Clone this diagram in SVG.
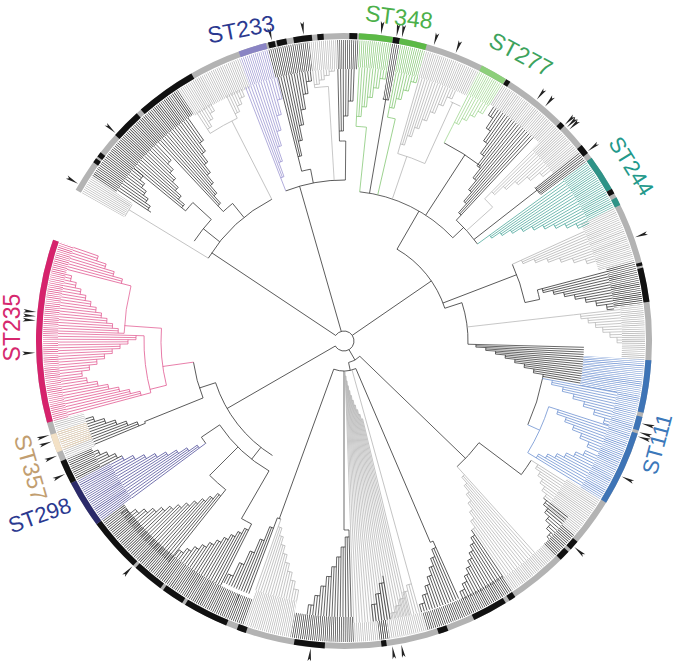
<svg xmlns="http://www.w3.org/2000/svg" width="680" height="663" viewBox="0 0 680 663">
<style>
.br path,.br circle{fill:none;stroke-width:.7}
.bd circle{fill:none;stroke-dasharray:.13 .26}
.mk{fill:none;stroke:#fff;stroke-width:320}
.s g{transform:rotate(1.146deg)}
.n g{transform:rotate(-1.146deg)}
.k{stroke:#2a2a2a}.g{stroke:#b2b2b2}.p{stroke:#e0528c}.v{stroke:#9a94d0}.gr{stroke:#7dc46c}.lg{stroke:#9fd690}.tl{stroke:#4aa69a}.bl{stroke:#6a8fd0}.tn{stroke:#eed5b2}.nv{stroke:#4d4c98}
.rg circle{fill:none;stroke-width:6}
.rk{stroke:#111}
text{font-family:"Liberation Sans",Arial,sans-serif}
</style>
<defs>
<path id="a" d="M0 0L13-1.8L10.5 0L13 1.8Z" fill="#222"/>
<mask id="m1"><circle class="mk" r="160" pathLength="360" stroke-dasharray="3.7 360" transform="rotate(-150.6)"/></mask>
<mask id="m2"><circle class="mk" r="160" pathLength="360" stroke-dasharray="23.4 360" transform="rotate(-146.9)"/></mask>
<mask id="m3"><circle class="mk" r="160" pathLength="360" stroke-dasharray="13.2 360" transform="rotate(-123.5)"/></mask>
<mask id="m4"><circle class="mk" r="160" pathLength="360" stroke-dasharray="5.7 360" transform="rotate(-110.3)"/></mask>
<mask id="m5"><circle class="mk" r="160" pathLength="360" stroke-dasharray="8 360" transform="rotate(-104.6)"/></mask>
<mask id="m6"><circle class="mk" r="160" pathLength="360" stroke-dasharray="5.3 360" transform="rotate(-96.6)"/></mask>
<mask id="m7"><circle class="mk" r="160" pathLength="360" stroke-dasharray="4.1 360" transform="rotate(-91.3)"/></mask>
<mask id="m8"><circle class="mk" r="160" pathLength="360" stroke-dasharray="6.3 360" transform="rotate(-87.2)"/></mask>
<mask id="m9"><circle class="mk" r="160" pathLength="360" stroke-dasharray="1.6 360" transform="rotate(-80.9)"/></mask>
<mask id="m10"><circle class="mk" r="160" pathLength="360" stroke-dasharray="4.9 360" transform="rotate(-79.3)"/></mask>
<mask id="m11"><circle class="mk" r="160" pathLength="360" stroke-dasharray="10.9 360" transform="rotate(-74.4)"/></mask>
<mask id="m12"><circle class="mk" r="160" pathLength="360" stroke-dasharray="5.2 360" transform="rotate(-63.5)"/></mask>
<mask id="m13"><circle class="mk" r="160" pathLength="360" stroke-dasharray="12.8 360" transform="rotate(-58.3)"/></mask>
<mask id="m14"><circle class="mk" r="160" pathLength="360" stroke-dasharray="6.7 360" transform="rotate(-45.5)"/></mask>
<mask id="m15"><circle class="mk" r="160" pathLength="360" stroke-dasharray="2.3 360" transform="rotate(-38.8)"/></mask>
<mask id="m16"><circle class="mk" r="160" pathLength="360" stroke-dasharray="10.3 360" transform="rotate(-36.5)"/></mask>
<mask id="m17"><circle class="mk" r="160" pathLength="360" stroke-dasharray="10.7 360" transform="rotate(-26.2)"/></mask>
<mask id="m18"><circle class="mk" r="160" pathLength="360" stroke-dasharray="8.5 360" transform="rotate(-15.5)"/></mask>
<mask id="m19"><circle class="mk" r="160" pathLength="360" stroke-dasharray="10.6 360" transform="rotate(-7)"/></mask>
<mask id="m20"><circle class="mk" r="160" pathLength="360" stroke-dasharray="7.1 360" transform="rotate(3.6)"/></mask>
<mask id="m21"><circle class="mk" r="160" pathLength="360" stroke-dasharray="21 360" transform="rotate(10.7)"/></mask>
<mask id="m22"><circle class="mk" r="160" pathLength="360" stroke-dasharray="8.3 360" transform="rotate(31.7)"/></mask>
<mask id="m23"><circle class="mk" r="160" pathLength="360" stroke-dasharray="5.5 360" transform="rotate(40)"/></mask>
<mask id="m24"><circle class="mk" r="160" pathLength="360" stroke-dasharray="10.5 360" transform="rotate(45.5)"/></mask>
<mask id="m25"><circle class="mk" r="160" pathLength="360" stroke-dasharray="18 360" transform="rotate(56)"/></mask>
<mask id="m26"><circle class="mk" r="160" pathLength="360" stroke-dasharray="14 360" transform="rotate(74)"/></mask>
<mask id="m27"><circle class="mk" r="160" pathLength="360" stroke-dasharray="1.9 360" transform="rotate(81.3)"/></mask>
<mask id="m28"><circle class="mk" r="160" pathLength="360" stroke-dasharray="12.3 360" transform="rotate(88)"/></mask>
<mask id="m29"><circle class="mk" r="160" pathLength="360" stroke-dasharray="9.2 360" transform="rotate(100.3)"/></mask>
<mask id="m30"><circle class="mk" r="160" pathLength="360" stroke-dasharray="34 360" transform="rotate(109.5)"/></mask>
<mask id="m31"><circle class="mk" r="160" pathLength="360" stroke-dasharray="9 360" transform="rotate(143.5)"/></mask>
<mask id="m32"><circle class="mk" r="160" pathLength="360" stroke-dasharray="4.5 360" transform="rotate(152.5)"/></mask>
<mask id="m33"><circle class="mk" r="160" pathLength="360" stroke-dasharray="7.6 360" transform="rotate(157)"/></mask>
<mask id="m34"><circle class="mk" r="160" pathLength="360" stroke-dasharray="3.7 360" transform="rotate(158.8)"/></mask>
<mask id="m35"><circle class="mk" r="160" pathLength="360" stroke-dasharray="34.6 360" transform="rotate(164.6)"/></mask>
</defs>
<rect width="680" height="663" fill="#fff"/>
<g id="leaves" class="bd" transform="translate(344 341)">
<circle class="g" r="277" stroke-width="48" pathLength="360" mask="url(#m1)"/>
<circle class="k" r="286.5" stroke-width="29" pathLength="360" mask="url(#m2)"/>
<circle class="g" r="285.5" stroke-width="31" pathLength="360" mask="url(#m3)"/>
<circle class="v" r="286.5" stroke-width="29" pathLength="360" mask="url(#m4)"/>
<circle class="k" r="286.5" stroke-width="29" pathLength="360" mask="url(#m5)"/>
<circle class="g" r="286.5" stroke-width="29" pathLength="360" mask="url(#m6)"/>
<circle class="k" r="286.5" stroke-width="29" pathLength="360" mask="url(#m7)"/>
<circle class="gr" r="287.5" stroke-width="27" pathLength="360" mask="url(#m8)"/>
<circle class="k" r="273" stroke-width="56" pathLength="360" mask="url(#m9)"/>
<circle class="gr" r="287.5" stroke-width="27" pathLength="360" mask="url(#m10)"/>
<circle class="g" r="287.5" stroke-width="27" pathLength="360" mask="url(#m11)"/>
<circle class="lg" r="288.5" stroke-width="25" pathLength="360" mask="url(#m12)"/>
<circle class="g" r="289.5" stroke-width="23" pathLength="360" mask="url(#m13)"/>
<circle class="g" r="284.5" stroke-width="33" pathLength="360" mask="url(#m14)"/>
<circle class="k" r="273" stroke-width="56" pathLength="360" mask="url(#m15)"/>
<circle class="tl" r="286.5" stroke-width="29" pathLength="360" mask="url(#m16)"/>
<circle class="g" r="282.5" stroke-width="37" pathLength="360" mask="url(#m17)"/>
<circle class="k" r="286.5" stroke-width="29" pathLength="360" mask="url(#m18)"/>
<circle class="g" r="289.5" stroke-width="23" pathLength="360" mask="url(#m19)"/>
<circle class="bl" r="270.5" stroke-width="61" pathLength="360" mask="url(#m20)"/>
<circle class="bl" r="289.5" stroke-width="23" pathLength="360" mask="url(#m21)"/>
<circle class="g" r="281.5" stroke-width="39" pathLength="360" mask="url(#m22)"/>
<circle class="k" r="293" stroke-width="16" pathLength="360" mask="url(#m23)"/>
<circle class="g" r="293" stroke-width="16" pathLength="360" mask="url(#m24)"/>
<circle class="k" r="292" stroke-width="18" pathLength="360" mask="url(#m25)"/>
<circle class="g" r="291.5" stroke-width="19" pathLength="360" mask="url(#m26)"/>
<circle class="k" r="291.5" stroke-width="19" pathLength="360" mask="url(#m27)"/>
<circle class="k" r="288.5" stroke-width="25" pathLength="360" mask="url(#m28)"/>
<circle class="g" r="282.5" stroke-width="37" pathLength="360" mask="url(#m29)"/>
<circle class="k" r="287.5" stroke-width="27" pathLength="360" mask="url(#m30)"/>
<circle class="nv" r="282.5" stroke-width="37" pathLength="360" mask="url(#m31)"/>
<circle class="k" r="287.5" stroke-width="27" pathLength="360" mask="url(#m32)"/>
<circle class="g" r="285.5" stroke-width="31" pathLength="360" mask="url(#m33)"/>
<circle class="tn" r="285.5" stroke-width="31" pathLength="360" mask="url(#m34)"/>
<circle class="p" r="293.5" stroke-width="15" pathLength="360" mask="url(#m35)"/>
</g>
<g id="connectors" class="br" transform="translate(344 341)">
<circle class="k" r="10" pathLength="360" stroke-dasharray="296.3 360" transform="rotate(-146.3)"/>
<path class="k" transform="rotate(-146.3)" d="M10 0H159"/>
<path class="k" transform="rotate(-106)" d="M10 0H161"/>
<path class="k" transform="rotate(-34.5)" d="M10 0H106"/>
<path class="k" transform="rotate(60)" d="M10 0H22"/>
<circle class="k" r="22" pathLength="360" stroke-dasharray="34 360" transform="rotate(44)"/>
<path class="k" transform="rotate(44)" d="M22 0H169"/>
<path class="k" transform="rotate(78)" d="M22 0H30"/>
<circle class="k" r="30" pathLength="360" stroke-dasharray="43.2 360" transform="rotate(66.8)"/>
<path class="k" transform="rotate(150)" d="M10 0H135"/>
<circle class="k" r="135" pathLength="360" stroke-dasharray="40 360" transform="rotate(122)"/>
<circle class="k" r="159" pathLength="360" stroke-dasharray="31.6 360" transform="rotate(-148.6)"/>
<path class="g" transform="rotate(-148.6)" d="M159 0H252"/>
<circle class="g" r="252" pathLength="360" stroke-dasharray="3.2 360" transform="rotate(-150.4)"/>
<path class="k" transform="rotate(-141.4)" d="M159 0H180"/>
<circle class="k" r="180" pathLength="360" stroke-dasharray="8.8 360" transform="rotate(-146.3)"/>
<path class="k" transform="rotate(-137.5)" d="M180 0H205"/>
<circle class="k" r="205" pathLength="360" stroke-dasharray="3.1 360" transform="rotate(-140.6)"/>
<path class="k" transform="rotate(-129)" d="M159 0H177"/>
<circle class="k" r="177" pathLength="360" stroke-dasharray="4 360" transform="rotate(-133)"/>
<path class="g" transform="rotate(-117)" d="M159 0H247"/>
<circle class="g" r="247" pathLength="360" stroke-dasharray="7.2 360" transform="rotate(-122.8)"/>
<circle class="k" r="161" pathLength="360" stroke-dasharray="21.7 360" transform="rotate(-111.2)"/>
<path class="k" transform="rotate(-101)" d="M161 0H175"/>
<circle class="k" r="175" pathLength="360" stroke-dasharray="3 360" transform="rotate(-104)"/>
<path class="g" transform="rotate(-93.5)" d="M161 0H255"/>
<circle class="g" r="255" pathLength="360" stroke-dasharray="3.1 360" transform="rotate(-96.6)"/>
<path class="k" transform="rotate(-89.5)" d="M161 0H200"/>
<circle class="k" r="200" pathLength="360" stroke-dasharray="1.8 360" transform="rotate(-91.3)"/>
<circle class="k" r="106" pathLength="360" stroke-dasharray="42 360" transform="rotate(-60)"/>
<path class="k" transform="rotate(-18)" d="M106 0H124"/>
<circle class="k" r="124" pathLength="360" stroke-dasharray="19.5 360" transform="rotate(-18)"/>
<path class="k" transform="rotate(-60)" d="M106 0H150"/>
<circle class="k" r="150" pathLength="360" stroke-dasharray="40.5 360" transform="rotate(-84)"/>
<path class="gr" transform="rotate(-84)" d="M150 0H215"/>
<circle class="gr" r="215" pathLength="360" stroke-dasharray="2.8 360" transform="rotate(-86.8)"/>
<path class="k" transform="rotate(-80.2)" d="M150 0H245"/>
<circle class="k" r="245" pathLength="360" stroke-dasharray="1.4 360" transform="rotate(-80.9)"/>
<path class="gr" transform="rotate(-77)" d="M150 0H228"/>
<circle class="gr" r="228" pathLength="360" stroke-dasharray="2 360" transform="rotate(-79)"/>
<path class="g" transform="rotate(-71.2)" d="M150 0H195"/>
<circle class="g" r="195" pathLength="360" stroke-dasharray="8.5 360" transform="rotate(-74)"/>
<path class="g" transform="rotate(-65.5)" d="M195 0H262"/>
<circle class="g" r="262" pathLength="360" stroke-dasharray="2.4 360" transform="rotate(-66)"/>
<path class="k" transform="rotate(-57)" d="M150 0H222"/>
<circle class="k" r="222" pathLength="360" stroke-dasharray="11.2 360" transform="rotate(-63.2)"/>
<path class="lg" transform="rotate(-63.2)" d="M222 0H240"/>
<path class="k" transform="rotate(-43.5)" d="M150 0H165"/>
<circle class="k" r="165" pathLength="360" stroke-dasharray="11.1 360" transform="rotate(-47.1)"/>
<path class="g" transform="rotate(-42)" d="M165 0H200"/>
<circle class="g" r="200" pathLength="360" stroke-dasharray="3.3 360" transform="rotate(-45.3)"/>
<path class="k" transform="rotate(-38)" d="M165 0H245"/>
<circle class="k" r="245" pathLength="360" stroke-dasharray="1.8 360" transform="rotate(-38.8)"/>
<path class="k" transform="rotate(-21)" d="M106 0H185"/>
<circle class="k" r="185" pathLength="360" stroke-dasharray="12.5 360" transform="rotate(-24.5)"/>
<path class="k" transform="rotate(-12)" d="M185 0H200"/>
<circle class="k" r="200" pathLength="360" stroke-dasharray="2.8 360" transform="rotate(-14.8)"/>
<path class="g" transform="rotate(-6.5)" d="M124 0H231"/>
<circle class="k" r="202" pathLength="360" stroke-dasharray="13.83 360" transform="rotate(10.67)"/>
<path class="bl" transform="rotate(24.5)" d="M202 0H215"/>
<circle class="bl" r="215" pathLength="360" stroke-dasharray="13.5 360" transform="rotate(17.8)"/>
<circle class="k" r="169" pathLength="360" stroke-dasharray="11 360" transform="rotate(37)"/>
<path class="k" transform="rotate(37)" d="M169 0H222"/>
<circle class="k" r="222" pathLength="360" stroke-dasharray="4.5 360" transform="rotate(32.5)"/>
<path class="k" transform="rotate(66.8)" d="M30 0H219"/>
<circle class="k" r="219" pathLength="360" stroke-dasharray=".8 360" transform="rotate(66)"/>
<path class="k" transform="rotate(90)" d="M30 0H189"/>
<circle class="k" r="189" pathLength="360" stroke-dasharray="1.5 360" transform="rotate(88.5)"/>
<path class="k" transform="rotate(110)" d="M30 0H189"/>
<circle class="k" r="189" pathLength="360" stroke-dasharray="1.15 360" transform="rotate(109.5)"/>
<path class="k" transform="rotate(128)" d="M135 0H150"/>
<circle class="k" r="150" pathLength="360" stroke-dasharray="26 360" transform="rotate(120)"/>
<path class="k" transform="rotate(146)" d="M150 0H172"/>
<circle class="k" r="172" pathLength="360" stroke-dasharray="2.5 360" transform="rotate(143.5)"/>
<path class="k" transform="rotate(135)" d="M150 0H190"/>
<circle class="k" r="190" pathLength="360" stroke-dasharray="6.5 360" transform="rotate(128.5)"/>
<path class="k" transform="rotate(120)" d="M150 0H205"/>
<circle class="k" r="205" pathLength="360" stroke-dasharray="3.2 360" transform="rotate(116.8)"/>
<path class="k" transform="rotate(162)" d="M135 0H152"/>
<circle class="k" r="152" pathLength="360" stroke-dasharray="14 360" transform="rotate(158)"/>
<path class="k" transform="rotate(158)" d="M152 0H215"/>
<circle class="k" r="215" pathLength="360" stroke-dasharray=".5 360" transform="rotate(157.5)"/>
<path class="p" transform="rotate(172)" d="M152 0H183"/>
<circle class="p" r="183" pathLength="360" stroke-dasharray="18 360" transform="rotate(166)"/>
<path class="p" transform="rotate(184)" d="M183 0H220"/>
<circle class="p" r="220" pathLength="360" stroke-dasharray="12.5 360" transform="rotate(182)"/>
<path class="p" transform="rotate(166)" d="M183 0H200"/>
<circle class="p" r="200" pathLength="360" stroke-dasharray="16.5 360" transform="rotate(165)"/>

<g class="s k" transform="rotate(-146.3)"><path d="M232 0H272M236 0v4.72M236 2.36L272 2.72"/><g><path d="M236 0H272M242 0v4.84M242 2.42L272 2.72"/><g><path d="M242 0H272M248 0v4.96M248 2.48L272 2.72"/><g><path d="M248 0H272M254 0v5.08M254 2.54L272 2.72"/><g><path d="M254 0H272M260 0v5.2M260 2.6L272 2.72"/><g><path d="M260 0H272"/></g></g></g></g></g></g>
<g class="s k" transform="rotate(-140.6)"><path d="M205 0H272M210 0v4.2M210 2.1L272 2.72"/><g><path d="M210 0H272M218 0v4.36M218 2.18L272 2.72"/><g><path d="M218 0H272M226 0v4.52M226 2.26L272 2.72"/><g><path d="M226 0H272M234 0v4.68M234 2.34L272 2.72"/><g><path d="M234 0H272M242 0v4.84M242 2.42L272 2.72"/><g><path d="M242 0H272M250 0v5M250 2.5L272 2.72"/><g><path d="M250 0H272"/></g></g></g></g></g></g></g>
<g class="s k" transform="rotate(-133)"><path d="M177 0H272M185 0v3.7M185 1.85L272 2.72"/><g><path d="M185 0H272M195 0v3.9M195 1.95L272 2.72"/><g><path d="M195 0H272M205 0v4.1M205 2.05L272 2.72"/><g><path d="M205 0H272M215 0v4.3M215 2.15L272 2.72"/><g><path d="M215 0H272M225 0v4.5M225 2.25L272 2.72"/><g><path d="M225 0H272M235 0v4.7M235 2.35L272 2.72"/><g><path d="M235 0H272M245 0v4.9M245 2.45L272 2.72"/><g><path d="M245 0H272"/></g></g></g></g></g></g></g></g>
<g class="s g" transform="rotate(-122.8)"><path d="M247 0H272M252 0v5.04M252 2.52L272 2.72"/><g><path d="M252 0H272M258 0v5.16M258 2.58L272 2.72"/><g><path d="M258 0H272M264 0v5.28M264 2.64L272 2.72"/><g><path d="M264 0H272"/></g></g></g></g>
<g class="s g" transform="rotate(-115.6)"><path d="M247 0H272M252 0v5.04M252 2.52L272 2.72"/><g><path d="M252 0H272M258 0v5.16M258 2.58L272 2.72"/><g><path d="M258 0H272M264 0v5.28M264 2.64L272 2.72"/><g><path d="M264 0H272"/></g></g></g></g>
<g class="s v" transform="rotate(-111.2)"><path d="M161 0H272M175 0v3.5M175 1.75L272 2.72"/><g><path d="M175 0H272M190 0v3.8M190 1.9L272 2.72"/><g><path d="M190 0H272M205 0v4.1M205 2.05L272 2.72"/><g><path d="M205 0H272M220 0v4.4M220 2.2L272 2.72"/><g><path d="M220 0H272M235 0v4.7M235 2.35L272 2.72"/><g><path d="M235 0H272M250 0v5M250 2.5L272 2.72"/><g><path d="M250 0H272"/></g></g></g></g></g></g></g>
<g class="s k" transform="rotate(-104)"><path d="M175 0H272M190 0v3.8M190 1.9L272 2.72"/><g><path d="M190 0H272M205 0v4.1M205 2.05L272 2.72"/><g><path d="M205 0H272M220 0v4.4M220 2.2L272 2.72"/><g><path d="M220 0H272M235 0v4.7M235 2.35L272 2.72"/><g><path d="M235 0H272M250 0v5M250 2.5L272 2.72"/><g><path d="M250 0H272M262 0v5.24M262 2.62L272 2.72"/><g><path d="M262 0H272"/></g></g></g></g></g></g></g>
<g class="s g" transform="rotate(-96.6)"><path d="M255 0H272M258 0v5.16M258 2.58L272 2.72"/><g><path d="M258 0H272M262 0v5.24M262 2.62L272 2.72"/><g><path d="M262 0H272M266 0v5.32M266 2.66L272 2.72"/><g><path d="M266 0H272M270 0v5.4M270 2.7L272 2.72"/><g><path d="M270 0H272"/></g></g></g></g></g>
<g class="s k" transform="rotate(-91.3)"><path d="M200 0H272M210 0v4.2M210 2.1L272 2.72"/><g><path d="M210 0H272M225 0v4.5M225 2.25L272 2.72"/><g><path d="M225 0H272M240 0v4.8M240 2.4L272 2.72"/><g><path d="M240 0H272"/></g></g></g></g>
<g class="s gr" transform="rotate(-86.8)"><path d="M215 0H274M225 0v4.5M225 2.25L274 2.74"/><g><path d="M225 0H274M235 0v4.7M235 2.35L274 2.74"/><g><path d="M235 0H274M245 0v4.9M245 2.45L274 2.74"/><g><path d="M245 0H274M255 0v5.1M255 2.55L274 2.74"/><g><path d="M255 0H274M265 0v5.3M265 2.65L274 2.74"/><g><path d="M265 0H274"/></g></g></g></g></g></g>
<g class="s gr" transform="rotate(-79)"><path d="M228 0H274M238 0v4.76M238 2.38L274 2.74"/><g><path d="M238 0H274M248 0v4.96M248 2.48L274 2.74"/><g><path d="M248 0H274M258 0v5.16M258 2.58L274 2.74"/><g><path d="M258 0H274M268 0v5.36M268 2.68L274 2.74"/><g><path d="M268 0H274"/></g></g></g></g></g>
<g class="s g" transform="rotate(-74)"><path d="M195 0H274M205 0v4.1M205 2.05L274 2.74"/><g><path d="M205 0H274M215 0v4.3M215 2.15L274 2.74"/><g><path d="M215 0H274M225 0v4.5M225 2.25L274 2.74"/><g><path d="M225 0H274M235 0v4.7M235 2.35L274 2.74"/><g><path d="M235 0H274M245 0v4.9M245 2.45L274 2.74"/><g><path d="M245 0H274M255 0v5.1M255 2.55L274 2.74"/><g><path d="M255 0H274M265 0v5.3M265 2.65L274 2.74"/><g><path d="M265 0H274"/></g></g></g></g></g></g></g></g>
<g class="s lg" transform="rotate(-63.2)"><path d="M240 0H276M245 0v4.9M245 2.45L276 2.76"/><g><path d="M245 0H276M252 0v5.04M252 2.52L276 2.76"/><g><path d="M252 0H276M259 0v5.18M259 2.59L276 2.76"/><g><path d="M259 0H276M266 0v5.32M266 2.66L276 2.76"/><g><path d="M266 0H276"/></g></g></g></g></g>
<g class="s k" transform="rotate(-57.4)"><path d="M278 0H268v5.36M268 2.68L278 2.78"/><g><path d="M278 0H256v5.12M256 2.56L278 2.78"/><g><path d="M278 0H244v4.88M244 2.44L278 2.78"/><g><path d="M278 0H232v4.64M232 2.32L278 2.78"/><g><path d="M278 0H220v4.4M220 2.2L278 2.78"/><g><path d="M278 0H208v4.16M208 2.08L278 2.78"/><g><path d="M278 0H196v3.92M196 1.96L278 2.78"/><g><path d="M278 0H184v3.68M184 1.84L278 2.78"/><g><path d="M278 0H172v3.44M172 1.72L278 2.78"/><g><path d="M278 0H165"/></g></g></g></g></g></g></g></g></g></g>
<g class="s g" transform="rotate(-45.3)"><path d="M200 0H268M210 0v4.2M210 2.1L268 2.68"/><g><path d="M210 0H268M222 0v4.44M222 2.22L268 2.68"/><g><path d="M222 0H268M234 0v4.68M234 2.34L268 2.68"/><g><path d="M234 0H268M246 0v4.92M246 2.46L268 2.68"/><g><path d="M246 0H268M258 0v5.16M258 2.58L268 2.68"/><g><path d="M258 0H268"/></g></g></g></g></g></g>
<g class="s tl" transform="rotate(-36)"><path d="M165 0H272M180 0v3.6M180 1.8L272 2.72"/><g><path d="M180 0H272M190 0v3.8M190 1.9L272 2.72"/><g><path d="M190 0H272M200 0v4M200 2L272 2.72"/><g><path d="M200 0H272M210 0v4.2M210 2.1L272 2.72"/><g><path d="M210 0H272M220 0v4.4M220 2.2L272 2.72"/><g><path d="M220 0H272M230 0v4.6M230 2.3L272 2.72"/><g><path d="M230 0H272M240 0v4.8M240 2.4L272 2.72"/><g><path d="M240 0H272M250 0v5M250 2.5L272 2.72"/><g><path d="M250 0H272M260 0v5.2M260 2.6L272 2.72"/><g><path d="M260 0H272"/></g></g></g></g></g></g></g></g></g></g>
<g class="s g" transform="rotate(-24.5)"><path d="M185 0H264M195 0v3.9M195 1.95L264 2.64"/><g><path d="M195 0H264M207 0v4.14M207 2.07L264 2.64"/><g><path d="M207 0H264M219 0v4.38M219 2.19L264 2.64"/><g><path d="M219 0H264M231 0v4.62M231 2.31L264 2.64"/><g><path d="M231 0H264M243 0v4.86M243 2.43L264 2.64"/><g><path d="M243 0H264M255 0v5.1M255 2.55L264 2.64"/><g><path d="M255 0H264"/></g></g></g></g></g></g></g>
<g class="s k" transform="rotate(-14.8)"><path d="M200 0H272M205 0v4.1M205 2.05L272 2.72"/><g><path d="M205 0H272M215 0v4.3M215 2.15L272 2.72"/><g><path d="M215 0H272M225 0v4.5M225 2.25L272 2.72"/><g><path d="M225 0H272M235 0v4.7M235 2.35L272 2.72"/><g><path d="M235 0H272M245 0v4.9M245 2.45L272 2.72"/><g><path d="M245 0H272M255 0v5.1M255 2.55L272 2.72"/><g><path d="M255 0H272M265 0v5.3M265 2.65L272 2.72"/><g><path d="M265 0H272"/></g></g></g></g></g></g></g></g>
<g class="s g" transform="rotate(-6.5)"><path d="M231 0H278M238 0v4.76M238 2.38L278 2.78"/><g><path d="M238 0H278M245 0v4.9M245 2.45L278 2.78"/><g><path d="M245 0H278M252 0v5.04M252 2.52L278 2.78"/><g><path d="M252 0H278M259 0v5.18M259 2.59L278 2.78"/><g><path d="M259 0H278M266 0v5.32M266 2.66L278 2.78"/><g><path d="M266 0H278M273 0v5.46M273 2.73L278 2.78"/><g><path d="M273 0H278"/></g></g></g></g></g></g></g>
<g class="s k" transform="rotate(1.5)"><path d="M124 0H240M132 0v2.64M132 1.32L240 2.4"/><g><path d="M132 0H240M142 0v2.84M142 1.42L240 2.4"/><g><path d="M142 0H240M152 0v3.04M152 1.52L240 2.4"/><g><path d="M152 0H240M162 0v3.24M162 1.62L240 2.4"/><g><path d="M162 0H240M172 0v3.44M172 1.72L240 2.4"/><g><path d="M172 0H240M182 0v3.64M182 1.82L240 2.4"/><g><path d="M182 0H240M192 0v3.84M192 1.92L240 2.4"/><g><path d="M192 0H240M202 0v4.04M202 2.02L240 2.4"/></g></g></g></g></g></g></g></g>
<g class="s bl" transform="rotate(10.7)"><path d="M202 0H278M212 0v4.24M212 2.12L278 2.78"/><g><path d="M212 0H278M224 0v4.48M224 2.24L278 2.78"/><g><path d="M224 0H278M236 0v4.72M236 2.36L278 2.78"/><g><path d="M236 0H278M248 0v4.96M248 2.48L278 2.78"/><g><path d="M248 0H278M260 0v5.2M260 2.6L278 2.78"/><g><path d="M260 0H278M272 0v5.44M272 2.72L278 2.78"/><g><path d="M272 0H278"/></g></g></g></g></g></g></g>
<g class="s bl" transform="rotate(17.8)"><path d="M215 0H278M225 0v4.5M225 2.25L278 2.78"/><g><path d="M225 0H278M235 0v4.7M235 2.35L278 2.78"/><g><path d="M235 0H278M245 0v4.9M245 2.45L278 2.78"/><g><path d="M245 0H278M255 0v5.1M255 2.55L278 2.78"/><g><path d="M255 0H278M265 0v5.3M265 2.65L278 2.78"/><g><path d="M265 0H278"/></g></g></g></g></g></g>
<g class="n bl" transform="rotate(31.3)"><path d="M215 0H278M225 0v-4.5M225 -2.25L278 -2.78"/><g><path d="M225 0H278M233 0v-4.66M233 -2.33L278 -2.78"/><g><path d="M233 0H278M241 0v-4.82M241 -2.41L278 -2.78"/><g><path d="M241 0H278M249 0v-4.98M249 -2.49L278 -2.78"/><g><path d="M249 0H278M257 0v-5.14M257 -2.57L278 -2.78"/><g><path d="M257 0H278M265 0v-5.3M265 -2.65L278 -2.78"/><g><path d="M265 0H278"/></g></g></g></g></g></g></g>
<g class="s g" transform="rotate(32.5)"><path d="M222 0H262M230 0v4.6M230 2.3L262 2.62"/><g><path d="M230 0H262M236 0v4.72M236 2.36L262 2.62"/><g><path d="M236 0H262M242 0v4.84M242 2.42L262 2.62"/><g><path d="M242 0H262M248 0v4.96M248 2.48L262 2.62"/><g><path d="M248 0H262M254 0v5.08M254 2.54L262 2.62"/></g></g></g></g></g>
<g class="s k" transform="rotate(38.23)"><path d="M254 0H285M258 0v5.16M258 2.58L285 2.85"/><g><path d="M258 0H285M264 0v5.28M264 2.64L285 2.85"/><g><path d="M264 0H285M270 0v5.4M270 2.7L285 2.85"/><g><path d="M270 0H285M276 0v5.52M276 2.76L285 2.85"/><g><path d="M276 0H285M282 0v5.64M282 2.82L285 2.85"/><g><path d="M282 0H285"/></g></g></g></g></g></g>
<g class="s g" transform="rotate(48)"><path d="M169 0H285M180 0v3.6M180 1.8L285 2.85"/><g><path d="M180 0H285M188 0v3.76M188 1.88L285 2.85"/><g><path d="M188 0H285M196 0v3.92M196 1.96L285 2.85"/><g><path d="M196 0H285M204 0v4.08M204 2.04L285 2.85"/><g><path d="M204 0H285M212 0v4.24M212 2.12L285 2.85"/><g><path d="M212 0H285M220 0v4.4M220 2.2L285 2.85"/><g><path d="M220 0H285M228 0v4.56M228 2.28L285 2.85"/></g></g></g></g></g></g></g>
<g class="s k" transform="rotate(56.02)"><path d="M228 0H285M234 0v4.68M234 2.34L285 2.85"/><g><path d="M234 0H285M240 0v4.8M240 2.4L285 2.85"/><g><path d="M240 0H285M246 0v4.92M246 2.46L285 2.85"/><g><path d="M246 0H285M252 0v5.04M252 2.52L285 2.85"/><g><path d="M252 0H285M258 0v5.16M258 2.58L285 2.85"/><g><path d="M258 0H285M264 0v5.28M264 2.64L285 2.85"/><g><path d="M264 0H285M270 0v5.4M270 2.7L285 2.85"/><g><path d="M270 0H285M276 0v5.52M276 2.76L285 2.85"/><g><path d="M276 0H285"/></g></g></g></g></g></g></g></g></g>
<g class="s k" transform="rotate(66)"><path d="M219 0H282M226 0v4.52M226 2.26L282 2.82"/><g><path d="M226 0H282M234 0v4.68M234 2.34L282 2.82"/><g><path d="M234 0H282M242 0v4.84M242 2.42L282 2.82"/><g><path d="M242 0H282M250 0v5M250 2.5L282 2.82"/><g><path d="M250 0H282M258 0v5.16M258 2.58L282 2.82"/><g><path d="M258 0H282M266 0v5.32M266 2.66L282 2.82"/><g><path d="M266 0H282M274 0v5.48M274 2.74L282 2.82"/><g><path d="M274 0H282"/></g></g></g></g></g></g></g></g>
<g class="n g" transform="rotate(88)"><path d="M30 0H282M35 0v-.7M35 -.35L282 -2.82"/><g><path d="M35 0H282M40 0v-.8M40 -.4L282 -2.82"/><g><path d="M40 0H282M45 0v-.9M45 -.45L282 -2.82"/><g><path d="M45 0H282M50 0v-1M50 -.5L282 -2.82"/><g><path d="M50 0H282M55 0v-1.1M55 -.55L282 -2.82"/><g><path d="M55 0H282M60 0v-1.2M60 -.6L282 -2.82"/><g><path d="M60 0H282M65 0v-1.3M65 -.65L282 -2.82"/><g><path d="M65 0H282M70 0v-1.4M70 -.7L282 -2.82"/><g><path d="M70 0H282M75 0v-1.5M75 -.75L282 -2.82"/><g><path d="M75 0H282M80 0v-1.6M80 -.8L282 -2.82"/><g><path d="M80 0H282"/></g></g></g></g></g></g></g></g></g></g></g>
<g class="s g" transform="rotate(74.5)"><path d="M30 0H282M252 0v5.04M252 2.52L282 2.82"/><g><path d="M252 0H282M258 0v5.16M258 2.58L282 2.82"/><g><path d="M258 0H282M264 0v5.28M264 2.64L282 2.82"/><g><path d="M264 0H282M270 0v5.4M270 2.7L282 2.82"/><g><path d="M270 0H282M276 0v5.52M276 2.76L282 2.82"/><g><path d="M276 0H282"/></g></g></g></g></g></g>
<g class="s k" transform="rotate(80.6)"><path d="M238 0H282M245 0v4.9M245 2.45L282 2.82"/><g><path d="M245 0H282M255 0v5.1M255 2.55L282 2.82"/><g><path d="M255 0H282M265 0v5.3M265 2.65L282 2.82"/><g><path d="M265 0H282"/></g></g></g></g>
<g class="s k" transform="rotate(88.5)"><path d="M189 0H276M196 0v3.92M196 1.96L276 2.76"/><g><path d="M196 0H276M206 0v4.12M206 2.06L276 2.76"/><g><path d="M206 0H276M216 0v4.32M216 2.16L276 2.76"/><g><path d="M216 0H276M226 0v4.52M226 2.26L276 2.76"/><g><path d="M226 0H276M236 0v4.72M236 2.36L276 2.76"/><g><path d="M236 0H276M246 0v4.92M246 2.46L276 2.76"/><g><path d="M246 0H276M256 0v5.12M256 2.56L276 2.76"/><g><path d="M256 0H276M266 0v5.32M266 2.66L276 2.76"/><g><path d="M266 0H276"/></g></g></g></g></g></g></g></g></g>
<g class="n g" transform="rotate(109.5)"><path d="M189 0H264M197 0v-3.94M197 -1.97L264 -2.64"/><g><path d="M197 0H264M205 0v-4.1M205 -2.05L264 -2.64"/><g><path d="M205 0H264M213 0v-4.26M213 -2.13L264 -2.64"/><g><path d="M213 0H264M221 0v-4.42M221 -2.21L264 -2.64"/><g><path d="M221 0H264M229 0v-4.58M229 -2.29L264 -2.64"/><g><path d="M229 0H264M237 0v-4.74M237 -2.37L264 -2.64"/><g><path d="M237 0H264M245 0v-4.9M245 -2.45L264 -2.64"/><g><path d="M245 0H264M253 0v-5.06M253 -2.53L264 -2.64"/><g><path d="M253 0H264"/></g></g></g></g></g></g></g></g></g>
<g class="s k" transform="rotate(110.65)"><path d="M189 0H270M200 0v4M200 2L270 2.7"/><g><path d="M200 0H270M215 0v4.3M215 2.15L270 2.7"/><g><path d="M215 0H270M230 0v4.6M230 2.3L270 2.7"/><g><path d="M230 0H270M245 0v4.9M245 2.45L270 2.7"/><g><path d="M245 0H270M260 0v5.2M260 2.6L270 2.7"/><g><path d="M260 0H270"/></g></g></g></g></g></g>
<g class="s k" transform="rotate(116.8)"><path d="M205 0H274M212 0v4.24M212 2.12L274 2.74"/><g><path d="M212 0H274M218 0v4.36M218 2.18L274 2.74"/><g><path d="M218 0H274M224 0v4.48M224 2.24L274 2.74"/><g><path d="M224 0H274M230 0v4.6M230 2.3L274 2.74"/><g><path d="M230 0H274M236 0v4.72M236 2.36L274 2.74"/><g><path d="M236 0H274M242 0v4.84M242 2.42L274 2.74"/><g><path d="M242 0H274M248 0v4.96M248 2.48L274 2.74"/><g><path d="M248 0H274M254 0v5.08M254 2.54L274 2.74"/><g><path d="M254 0H274M260 0v5.2M260 2.6L274 2.74"/><g><path d="M260 0H274M266 0v5.32M266 2.66L274 2.74"/><g><path d="M266 0H274"/></g></g></g></g></g></g></g></g></g></g></g>
<g class="s k" transform="rotate(128.5)"><path d="M190 0H282M198 0v3.96M198 1.98L282 2.82"/><g><path d="M198 0H282M205 0v4.1M205 2.05L282 2.82"/><g><path d="M205 0H282M212 0v4.24M212 2.12L282 2.82"/><g><path d="M212 0H282M219 0v4.38M219 2.19L282 2.82"/><g><path d="M219 0H282M226 0v4.52M226 2.26L282 2.82"/><g><path d="M226 0H282M233 0v4.66M233 2.33L282 2.82"/><g><path d="M233 0H282M240 0v4.8M240 2.4L282 2.82"/><g><path d="M240 0H282M247 0v4.94M247 2.47L282 2.82"/><g><path d="M247 0H282M254 0v5.08M254 2.54L282 2.82"/><g><path d="M254 0H282M261 0v5.22M261 2.61L282 2.82"/><g><path d="M261 0H282M268 0v5.36M268 2.68L282 2.82"/><g><path d="M268 0H282M275 0v5.5M275 2.75L282 2.82"/><g><path d="M275 0H282"/></g></g></g></g></g></g></g></g></g></g></g></g></g>
<g class="s nv" transform="rotate(143.5)"><path d="M172 0H264M180 0v3.6M180 1.8L264 2.64"/><g><path d="M180 0H264M190 0v3.8M190 1.9L264 2.64"/><g><path d="M190 0H264M200 0v4M200 2L264 2.64"/><g><path d="M200 0H264M210 0v4.2M210 2.1L264 2.64"/><g><path d="M210 0H264M220 0v4.4M220 2.2L264 2.64"/><g><path d="M220 0H264M230 0v4.6M230 2.3L264 2.64"/><g><path d="M230 0H264M240 0v4.8M240 2.4L264 2.64"/><g><path d="M240 0H264M250 0v5M250 2.5L264 2.64"/></g></g></g></g></g></g></g></g>
<g class="s k" transform="rotate(152.67)"><path d="M250 0H274M255 0v5.1M255 2.55L274 2.74"/><g><path d="M255 0H274M262 0v5.24M262 2.62L274 2.74"/><g><path d="M262 0H274M269 0v5.38M269 2.69L274 2.74"/><g><path d="M269 0H274"/></g></g></g></g>
<g class="s k" transform="rotate(157.5)"><path d="M215 0H270M222 0v4.44M222 2.22L270 2.7"/><g><path d="M222 0H270M232 0v4.64M232 2.32L270 2.7"/><g><path d="M232 0H270M242 0v4.84M242 2.42L270 2.7"/><g><path d="M242 0H270M252 0v5.04M252 2.52L270 2.7"/><g><path d="M252 0H270M262 0v5.24M262 2.62L270 2.7"/><g><path d="M262 0H270"/></g></g></g></g></g></g>
<g class="s p" transform="rotate(194.5)"><path d="M220 0H286M230 0v4.6M230 2.3L286 2.86"/><g><path d="M230 0H286M240 0v4.8M240 2.4L286 2.86"/><g><path d="M240 0H286M250 0v5M250 2.5L286 2.86"/><g><path d="M250 0H286M260 0v5.2M260 2.6L286 2.86"/><g><path d="M260 0H286"/></g></g></g></g></g>
<g class="s p" transform="rotate(182)"><path d="M220 0H286M226 0v4.52M226 2.26L286 2.86"/><g><path d="M226 0H286M232 0v4.64M232 2.32L286 2.86"/><g><path d="M232 0H286M238 0v4.76M238 2.38L286 2.86"/><g><path d="M238 0H286M244 0v4.88M244 2.44L286 2.86"/><g><path d="M244 0H286M250 0v5M250 2.5L286 2.86"/><g><path d="M250 0H286M256 0v5.12M256 2.56L286 2.86"/><g><path d="M256 0H286M262 0v5.24M262 2.62L286 2.86"/><g><path d="M262 0H286M268 0v5.36M268 2.68L286 2.86"/><g><path d="M268 0H286M274 0v5.48M274 2.74L286 2.86"/><g><path d="M274 0H286M280 0v5.6M280 2.8L286 2.86"/><g><path d="M280 0H286"/></g></g></g></g></g></g></g></g></g></g></g>
<g class="n p" transform="rotate(181.5)"><path d="M200 0H286M208 0v-4.16M208 -2.08L286 -2.86"/><g><path d="M208 0H286M216 0v-4.32M216 -2.16L286 -2.86"/><g><path d="M216 0H286M224 0v-4.48M224 -2.24L286 -2.86"/><g><path d="M224 0H286M232 0v-4.64M232 -2.32L286 -2.86"/><g><path d="M232 0H286M240 0v-4.8M240 -2.4L286 -2.86"/><g><path d="M240 0H286M248 0v-4.96M248 -2.48L286 -2.86"/><g><path d="M248 0H286M256 0v-5.12M256 -2.56L286 -2.86"/><g><path d="M256 0H286M264 0v-5.28M264 -2.64L286 -2.86"/><g><path d="M264 0H286"/></g></g></g></g></g></g></g></g></g>
<g class="s p" transform="rotate(165)"><path d="M200 0H286M210 0v4.2M210 2.1L286 2.86"/><g><path d="M210 0H286M220 0v4.4M220 2.2L286 2.86"/><g><path d="M220 0H286M230 0v4.6M230 2.3L286 2.86"/><g><path d="M230 0H286M240 0v4.8M240 2.4L286 2.86"/><g><path d="M240 0H286M250 0v5M250 2.5L286 2.86"/><g><path d="M250 0H286M260 0v5.2M260 2.6L286 2.86"/><g><path d="M260 0H286"/></g></g></g></g></g></g></g>
</g>
<g id="ring" class="rg" transform="translate(344 341)">
<circle r="305" stroke="#b3b3b3" pathLength="360" stroke-dasharray="349.8 360" transform="rotate(-150.6)"/>
<circle class="rk" r="305" pathLength="360" stroke-dasharray=".9 360" transform="rotate(-144.5)"/>
<circle class="rk" r="305" pathLength="360" stroke-dasharray="1 360" transform="rotate(-143.2)"/>
<circle class="rk" r="305" pathLength="360" stroke-dasharray="5.7 360" transform="rotate(-138)"/>
<circle class="rk" r="305" pathLength="360" stroke-dasharray="11.6 360" transform="rotate(-131.3)"/>
<circle stroke="#8a84c4" r="305" pathLength="360" stroke-dasharray="5.3 360" transform="rotate(-110)"/>
<circle class="rk" r="305" pathLength="360" stroke-dasharray="1.3 360" transform="rotate(-104.3)"/>
<circle class="rk" r="305" pathLength="360" stroke-dasharray="1.9 360" transform="rotate(-102.7)"/>
<circle class="rk" r="305" pathLength="360" stroke-dasharray="3.5 360" transform="rotate(-99.5)"/>
<circle class="rk" r="305" pathLength="360" stroke-dasharray="1.2 360" transform="rotate(-95)"/>
<circle class="rk" r="305" pathLength="360" stroke-dasharray="1.5 360" transform="rotate(-89)"/>
<circle stroke="#5cb946" r="305" pathLength="360" stroke-dasharray="6.4 360" transform="rotate(-87.2)"/>
<circle class="rk" r="305" pathLength="360" stroke-dasharray="1.3 360" transform="rotate(-80.8)"/>
<circle stroke="#5cb946" r="305" pathLength="360" stroke-dasharray="5.1 360" transform="rotate(-79.5)"/>
<circle stroke="#8ccf7a" r="305" pathLength="360" stroke-dasharray="5.1 360" transform="rotate(-63.4)"/>
<circle class="rk" r="305" pathLength="360" stroke-dasharray=".9 360" transform="rotate(-58.2)"/>
<circle class="rk" r="305" pathLength="360" stroke-dasharray="1 360" transform="rotate(-45.3)"/>
<circle class="rk" r="305" pathLength="360" stroke-dasharray="1.9 360" transform="rotate(-39.5)"/>
<circle stroke="#2e9387" r="305" pathLength="360" stroke-dasharray="6.9 360" transform="rotate(-36.5)"/>
<circle class="rk" r="305" pathLength="360" stroke-dasharray="1 360" transform="rotate(-29.6)"/>
<circle stroke="#2e9387" r="305" pathLength="360" stroke-dasharray="1.6 360" transform="rotate(-27.8)"/>
<circle class="rk" r="305" pathLength="360" stroke-dasharray=".6 360" transform="rotate(-14.8)"/>
<circle class="rk" r="305" pathLength="360" stroke-dasharray="6.5 360" transform="rotate(-13.8)"/>
<circle stroke="#3e74b6" r="305" pathLength="360" stroke-dasharray="9.9 360" transform="rotate(3.6)"/>
<circle stroke="#3e74b6" r="305" pathLength="360" stroke-dasharray="2.6 360" transform="rotate(14.3)"/>
<circle stroke="#3e74b6" r="305" pathLength="360" stroke-dasharray="14.2 360" transform="rotate(17.5)"/>
<circle class="rk" r="305" pathLength="360" stroke-dasharray="1.9 360" transform="rotate(40.7)"/>
<circle class="rk" r="305" pathLength="360" stroke-dasharray="2.1 360" transform="rotate(43.2)"/>
<circle class="rk" r="305" pathLength="360" stroke-dasharray="1.3 360" transform="rotate(56.2)"/>
<circle class="rk" r="305" pathLength="360" stroke-dasharray="6.7 360" transform="rotate(58.3)"/>
<circle class="rk" r="305" pathLength="360" stroke-dasharray="1.9 360" transform="rotate(70.2)"/>
<circle class="rk" r="305" pathLength="360" stroke-dasharray="1 360" transform="rotate(82)"/>
<circle class="rk" r="305" pathLength="360" stroke-dasharray="5.8 360" transform="rotate(93.6)"/>
<circle class="rk" r="305" pathLength="360" stroke-dasharray="1.8 360" transform="rotate(108.6)"/>
<circle class="rk" r="305" pathLength="360" stroke-dasharray="8.6 360" transform="rotate(112.5)"/>
<circle class="rk" r="305" pathLength="360" stroke-dasharray="4.3 360" transform="rotate(121.7)"/>
<circle class="rk" r="305" pathLength="360" stroke-dasharray="6 360" transform="rotate(126.6)"/>
<circle class="rk" r="305" pathLength="360" stroke-dasharray="10.3 360" transform="rotate(133.2)"/>
<circle stroke="#2b2a6a" r="305" pathLength="360" stroke-dasharray="9 360" transform="rotate(143.5)"/>
<circle class="rk" r="305" pathLength="360" stroke-dasharray="4.5 360" transform="rotate(152.5)"/>
<circle stroke="#f3e1c6" r="305" pathLength="360" stroke-dasharray="3.5 360" transform="rotate(158.8)"/>
<circle stroke="#d6226c" r="305" pathLength="360" stroke-dasharray="34.6 360" transform="rotate(164.6)"/>
</g>
<g id="markers" transform="translate(344 341)">
<use href="#a" transform="rotate(-149.4)translate(309 0)"/>
<use href="#a" transform="rotate(-137.7)translate(309 0)"/>
<use href="#a" transform="rotate(-103.5)translate(309 0)"/>
<use href="#a" transform="rotate(-97.5)translate(309 0)"/>
<use href="#a" transform="rotate(-83.1)translate(309 0)"/>
<use href="#a" transform="rotate(-80.2)translate(309 0)"/>
<use href="#a" transform="rotate(-79.2)translate(309 0)"/>
<use href="#a" transform="rotate(-73.1)translate(309 0)"/>
<use href="#a" transform="rotate(-68.8)translate(309 0)"/>
<use href="#a" transform="rotate(-51.4)translate(309 0)"/>
<use href="#a" transform="rotate(-49.4)translate(309 0)"/>
<use href="#a" transform="rotate(-44.4)translate(309 0)"/>
<use href="#a" transform="rotate(-43.8)translate(309 0)"/>
<use href="#a" transform="rotate(-43.2)translate(309 0)"/>
<use href="#a" transform="rotate(-37.9)translate(309 0)"/>
<use href="#a" transform="rotate(-19.6)translate(309 0)"/>
<use href="#a" transform="rotate(15.5)translate(309 0)"/>
<use href="#a" transform="rotate(17.2)translate(309 0)"/>
<use href="#a" transform="rotate(18)translate(309 0)"/>
<use href="#a" transform="rotate(26)translate(309 0)"/>
<use href="#a" transform="rotate(41.8)translate(309 0)"/>
<use href="#a" transform="rotate(79.3)translate(309 0)"/>
<use href="#a" transform="rotate(81)translate(309 0)"/>
<use href="#a" transform="rotate(96.2)translate(309 0)"/>
<use href="#a" transform="rotate(133.2)translate(309 0)"/>
<use href="#a" transform="rotate(154.5)translate(309 0)"/>
<use href="#a" transform="rotate(158.2)translate(309 0)"/>
<use href="#a" transform="rotate(161)translate(309 0)"/>
<use href="#a" transform="rotate(162.3)translate(309 0)"/>
<use href="#a" transform="rotate(177.8)translate(309 0)"/>
<use href="#a" transform="rotate(183.8)translate(309 0)"/>
<use href="#a" transform="rotate(184.6)translate(309 0)"/>
<use href="#a" transform="rotate(185.4)translate(309 0)"/>
</g>
<g id="labels" text-anchor="middle">
<text transform="translate(242.6 37.1) rotate(-11)" font-size="23" fill="#2b3990">ST233</text>
<text transform="translate(398 25) rotate(7)" font-size="23" fill="#4cb04a">ST348</text>
<text transform="translate(517.1 61.3) rotate(28)" font-size="23" fill="#3da35d">ST277</text>
<text transform="translate(624.8 170.2) rotate(58)" font-size="22" fill="#23998b">ST244</text>
<text transform="translate(664.5 446) rotate(-75)" font-size="22" fill="#3b78ba">ST111</text>
<text transform="translate(20.2 327.5) rotate(-90)" font-size="23" fill="#d6286e">ST235</text>
<text transform="translate(23.2 469.9) rotate(74)" font-size="23" fill="#c29e70">ST357</text>
<text transform="translate(42.2 522.4) rotate(-20)" font-size="22" fill="#2b3990">ST298</text>
</g>
</svg>
